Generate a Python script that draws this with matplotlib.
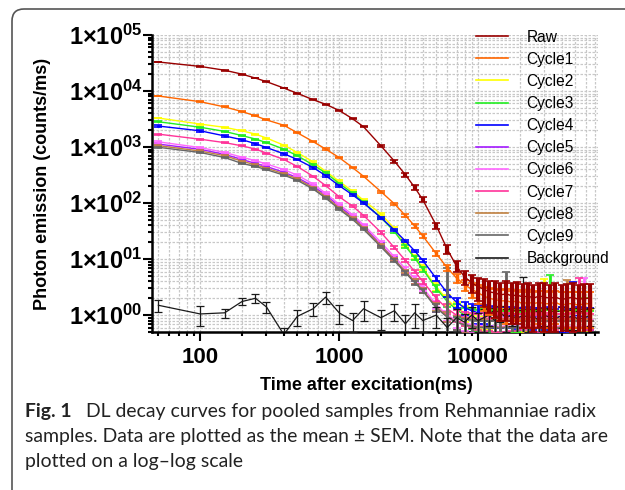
# coding: utf-8
import numpy as np
import matplotlib
matplotlib.use("Agg")
from matplotlib import pyplot
from matplotlib.lines import Line2D
from matplotlib.patches import FancyBboxPatch
from matplotlib.ticker import FixedLocator, LogLocator, NullFormatter
from matplotlib.transforms import IdentityTransform

pyplot.rcParams["font.family"] = "Liberation Sans"
pyplot.rcParams["mathtext.fontset"] = "custom"
pyplot.rcParams["mathtext.rm"] = "Liberation Sans:bold"
pyplot.rcParams["mathtext.it"] = "Liberation Sans:bold"
pyplot.rcParams["mathtext.bf"] = "Liberation Sans:bold"

# time after excitation (ms)
times = [50, 100, 150, 200, 250, 300, 400, 500, 650, 800,
         1000, 1250, 1500, 2000, 2500, 3000, 3500, 4000, 5000, 6000,
         7000, 8000, 9000, 10000, 11000, 12000, 13200, 14500, 16000, 17500,
         19000, 21000, 23000, 25000, 27500, 30000, 33000, 36000, 40000, 44000,
         48000, 53000, 58000, 64000]

# mean photon emission (counts/ms) and SEM
raw = [33000, 27500, 23500, 20000, 17000, 14700, 11300, 9100, 7000, 5800,
       4500, 3200, 2300, 1050, 560, 320, 190, 115, 40, 15,
       7.5, 4.8, 3.8, 3.2, 2.9, 2.6, 2.5, 2.3, 2.4, 2.2,
       2.3, 2.1, 2.2, 2.0, 2.2, 2.1, 2.0, 2.1, 1.9, 2.0,
       2.1, 1.9, 2.0, 2.0]
raw_sem = [500, 420, 360, 300, 260, 230, 180, 150, 120, 100,
           80, 65, 50, 40, 30, 22, 16, 11, 5, 2.5,
           1.6, 1.3, 1.3, 1.4, 1.5, 1.5, 1.6, 1.5, 1.6, 1.5,
           1.6, 1.5, 1.6, 1.5, 1.6, 1.6, 1.5, 1.6, 1.5, 1.6,
           1.6, 1.5, 1.6, 1.6]

cycle1 = [8150, 6450, 5200, 4300, 3600, 3050, 2450, 1800, 1250, 920,
          650, 430, 300, 160, 97, 60, 39, 26, 12.5, 7.0,
          4.6, 3.5, 2.9, 2.5, 2.2, 2.0, 1.9, 1.8, 1.8, 1.7,
          1.8, 1.6, 1.7, 1.6, 1.7, 1.6, 1.6, 1.7, 1.5, 1.6,
          1.6, 1.5, 1.6, 1.6]
cycle1_sem = [150, 120, 100, 85, 70, 60, 50, 40, 30, 24,
              18, 13, 10, 7, 5, 3.5, 2.5, 2.0, 1.2, 0.9,
              0.8, 0.8, 0.9, 0.9, 1.0, 1.0, 1.0, 1.0, 1.1, 1.0,
              1.0, 1.0, 1.1, 1.0, 1.0, 1.1, 1.0, 1.0, 1.1, 1.0,
              1.0, 1.1, 1.0, 1.0]

cycle2 = [3300, 2570, 2250, 1950, 1700, 1450, 1080, 800, 540, 370,
          245, 163, 112, 64, 35, 18, 11, 7.0, 3.2, 1.9,
          1.35, 1.1, 1.0, 0.95, 0.95, 0.9, 0.9, 0.85, 0.9, 0.85,
          0.9, 0.85, 0.8, 0.9, 0.85, 0.8, 0.85, 0.9, 0.8, 0.85,
          0.85, 0.8, 0.9, 0.85]
cycle2_sem = [60, 50, 45, 40, 35, 30, 25, 20, 15, 11,
              8, 6, 4.5, 3, 2, 1.3, 1.0, 0.7, 0.5, 0.4,
              0.35, 0.35, 0.35, 0.35, 0.4, 0.35, 0.4, 0.35, 0.4, 0.35,
              0.4, 0.35, 0.4, 0.35, 0.4, 3.6, 0.4, 0.35, 0.4, 0.35,
              0.4, 0.35, 0.4, 0.4]

cycle3 = [2830, 2260, 1900, 1600, 1390, 1200, 920, 700, 480, 345,
          225, 150, 103, 55, 31, 17, 10.5, 6.6, 3.0, 1.75,
          1.25, 1.0, 0.92, 0.88, 0.9, 0.85, 0.9, 0.85, 0.8, 0.85,
          0.9, 0.8, 0.85, 0.8, 0.85, 0.9, 0.8, 0.85, 0.8, 0.9,
          0.85, 0.8, 0.85, 0.8]
cycle3_sem = [55, 45, 40, 35, 30, 26, 21, 17, 13, 10,
              7, 5, 3.8, 2.5, 1.7, 1.1, 0.8, 0.6, 0.45, 0.35,
              0.35, 0.35, 0.35, 0.35, 0.4, 0.35, 0.4, 0.35, 0.4, 0.35,
              0.4, 0.35, 0.4, 0.35, 0.4, 0.35, 4.3, 0.35, 0.4, 0.35,
              0.4, 0.35, 1.2, 0.4]

cycle4 = [2370, 1950, 1580, 1350, 1150, 980, 760, 600, 430, 310,
          205, 140, 100, 55, 33, 21, 14, 9.5, 4.5, 2.5,
          1.7, 1.35, 1.2, 1.1, 1.1, 1.05, 1.0, 1.0, 0.95, 1.0,
          0.95, 0.9, 1.0, 0.95, 0.9, 0.95, 1.0, 0.9, 0.95, 0.9,
          0.95, 1.0, 0.9, 0.95]
cycle4_sem = [60, 55, 50, 45, 40, 35, 28, 22, 16, 12,
              8, 6, 4, 2.5, 1.6, 1.1, 0.8, 0.6, 0.4, 0.35,
              0.35, 0.35, 0.35, 0.4, 0.4, 0.4, 0.4, 0.4, 0.45, 0.4,
              0.4, 0.45, 0.4, 0.4, 0.45, 0.4, 0.4, 0.4, 0.45, 0.4,
              2.9, 0.4, 0.45, 0.4]

cycle5 = [1130, 910, 740, 600, 510, 450, 355, 285, 200, 140,
          88, 57, 38, 18, 10, 6.0, 4.0, 2.8, 1.4, 0.95,
          0.75, 0.68, 0.65, 0.62, 0.62, 0.6, 0.62, 0.6, 0.62, 0.6,
          0.6, 0.62, 0.6, 0.62, 0.6, 0.6, 0.62, 0.6, 0.62, 0.6,
          0.6, 0.62, 0.6, 0.6]
cycle5_sem = [30, 25, 20, 17, 15, 13, 11, 9, 7, 5,
              3.5, 2.5, 1.8, 1.0, 0.7, 0.5, 0.4, 0.3, 0.25, 0.2,
              0.2, 0.2, 0.2, 0.2, 0.25, 0.2, 0.25, 0.2, 0.25, 0.2,
              0.25, 0.2, 0.25, 0.2, 0.25, 0.2, 0.25, 0.2, 0.25, 0.2,
              0.25, 0.2, 0.25, 0.2]

cycle6 = [1240, 980, 800, 660, 570, 500, 395, 315, 220, 150,
          95, 62, 41, 20, 11, 6.8, 4.5, 3.1, 1.55, 1.0,
          0.8, 0.72, 0.68, 0.65, 0.65, 0.62, 0.65, 0.62, 0.65, 0.62,
          0.65, 0.62, 0.65, 0.62, 0.65, 0.62, 0.65, 0.62, 0.65, 0.62,
          0.65, 0.62, 0.65, 0.62]
cycle6_sem = [35, 28, 22, 18, 16, 14, 12, 10, 8, 6,
              4, 3, 2, 1.1, 0.8, 0.55, 0.4, 0.35, 0.25, 0.2,
              0.2, 0.2, 0.2, 0.2, 0.25, 0.2, 0.25, 0.2, 0.25, 0.2,
              0.25, 0.2, 0.25, 0.2, 0.25, 0.2, 0.25, 0.2, 0.25, 0.2,
              0.25, 0.2, 4.0, 0.2]

cycle7 = [1700, 1380, 1200, 1050, 920, 780, 600, 450, 300, 205,
          130, 88, 60, 30, 16, 9.5, 6.0, 4.0, 2.0, 1.3,
          1.0, 0.9, 0.85, 0.8, 0.8, 0.78, 0.8, 0.75, 0.8, 0.78,
          0.75, 0.8, 0.78, 0.75, 0.8, 0.75, 0.78, 0.8, 0.75, 0.78,
          0.8, 0.75, 0.78, 0.8]
cycle7_sem = [40, 32, 28, 24, 21, 18, 15, 12, 9, 7,
              5, 3.5, 2.5, 1.4, 0.9, 0.6, 0.45, 0.35, 0.3, 0.25,
              0.25, 0.25, 0.25, 0.25, 0.3, 0.25, 0.3, 0.25, 0.3, 0.25,
              0.3, 0.25, 0.3, 0.25, 0.3, 0.25, 0.3, 0.25, 0.3, 0.25,
              0.3, 3.8, 0.3, 0.25]

cycle8 = [1060, 850, 700, 560, 480, 420, 335, 270, 188, 130,
          82, 54, 36, 17.5, 9.8, 6.0, 4.0, 2.8, 1.4, 0.95,
          0.75, 0.68, 0.64, 0.62, 0.62, 0.6, 0.62, 0.6, 0.62, 0.6,
          0.62, 0.6, 0.62, 0.6, 0.62, 0.6, 0.62, 0.6, 0.62, 0.6,
          0.62, 0.6, 0.62, 0.6]
cycle8_sem = [28, 22, 18, 15, 13, 11, 9, 8, 6, 4.5,
              3, 2.2, 1.6, 0.9, 0.6, 0.45, 0.35, 0.3, 0.22, 0.2,
              0.2, 0.2, 0.2, 0.2, 0.22, 0.2, 0.22, 0.2, 0.22, 0.2,
              0.22, 0.2, 0.22, 0.2, 0.22, 0.2, 0.22, 0.2, 0.22, 3.7,
              0.22, 0.2, 0.22, 0.2]

cycle9 = [990, 800, 650, 510, 450, 395, 315, 255, 178, 123,
          78, 51, 34, 16.5, 9.3, 5.7, 3.8, 2.7, 1.35, 0.92,
          0.74, 0.67, 0.63, 0.6, 0.6, 0.58, 0.6, 0.58, 0.6, 0.58,
          0.6, 0.58, 0.6, 0.58, 0.6, 0.58, 0.6, 0.58, 0.6, 0.58,
          0.6, 0.58, 0.6, 0.58]
cycle9_sem = [26, 20, 17, 14, 12, 10, 8, 7, 5, 4,
              2.8, 2, 1.5, 0.8, 0.55, 0.4, 0.3, 0.25, 0.2, 6.0,
              0.2, 0.2, 0.2, 0.2, 0.2, 0.2, 0.2, 0.2, 5.2, 0.2,
              0.2, 0.2, 0.2, 0.2, 0.2, 0.2, 0.2, 0.2, 0.2, 0.2,
              0.2, 0.2, 0.2, 0.2]

background = [1.5, 1.05, 1.1, 1.75, 2.0, 1.4, 0.45, 0.95, 1.3, 2.1,
              1.1, 0.8, 1.3, 0.9, 1.2, 0.7, 1.1, 0.8, 1.0, 0.6,
              0.9, 0.75, 1.0, 0.8, 0.9, 1.0, 0.8, 1.1, 0.9, 1.0,
              0.85, 1.0, 0.9, 0.95, 0.8, 1.0, 0.9, 0.85, 1.0, 0.9,
              0.95, 0.85, 0.9, 1.0]
background_sem = [0.35, 0.4, 0.2, 0.25, 0.35, 0.3, 0.15, 0.3, 0.35, 0.5,
                  0.4, 0.3, 0.5, 0.35, 0.4, 0.3, 0.5, 0.3, 0.4, 0.3,
                  0.4, 0.3, 0.4, 0.3, 0.4, 0.35, 0.4, 0.35, 0.4, 0.35,
                  0.4, 3.8, 0.4, 0.35, 0.4, 0.35, 0.4, 0.35, 0.4, 0.35,
                  0.4, 0.35, 0.4, 0.35]

series_names = ["Raw", "Cycle1", "Cycle2", "Cycle3", "Cycle4", "Cycle5",
                "Cycle6", "Cycle7", "Cycle8", "Cycle9", "Background"]
series_values = [raw, cycle1, cycle2, cycle3, cycle4, cycle5,
                 cycle6, cycle7, cycle8, cycle9, background]
series_sem = [raw_sem, cycle1_sem, cycle2_sem, cycle3_sem, cycle4_sem, cycle5_sem,
              cycle6_sem, cycle7_sem, cycle8_sem, cycle9_sem, background_sem]
series_colors = ["#990000", "#ff6600", "#ffff00", "#22ee22", "#0000ff", "#a31aff",
                 "#ff66ff", "#ff3399", "#c08040", "#666666", "#1a1a1a"]
error_widths = [3.0, 2.5, 2.0, 2.0, 2.0, 2.0, 2.0, 2.0, 2.0, 2.0, 0.9]
# drawing order: cycles first, then background, orange, raw on top
draw_order = [2, 3, 4, 5, 6, 7, 8, 9, 10, 1, 0]

x_ticks = [100, 1000, 10000]
x_tick_labels = ["100", "1000", "10000"]
y_ticks = [1, 10, 100, 1000, 10000, 100000]
y_tick_labels = ["1×10$^{00}$", "1×10$^{01}$", "1×10$^{02}$",
                 "1×10$^{03}$", "1×10$^{04}$", "1×10$^{05}$"]

caption_bold = "Fig. 1"
caption_lines = ["DL decay curves for pooled samples from Rehmanniae radix",
                 "samples. Data are plotted as the mean ± SEM. Note that the data are",
                 "plotted on a log–log scale"]

fig = pyplot.figure(figsize=(6.25, 4.9), dpi=100)
ax = fig.add_axes([152 / 625, 1 - 332 / 490, 446 / 625, 297 / 490])
ax.set_xscale("log")
ax.set_yscale("log")

for z, i in enumerate(draw_order):
    thin = series_names[i] == "Background"
    ax.errorbar(times, series_values[i], yerr=series_sem[i], color=series_colors[i],
                lw=0.9 if thin else 1.0, elinewidth=error_widths[i], capsize=3,
                capthick=0.9 if thin else 1.2, zorder=3 + z)

ax.set_xlim(45, 73000)
ax.set_ylim(0.5, 100000)

ax.xaxis.set_major_locator(FixedLocator(x_ticks))
ax.set_xticklabels(x_tick_labels)
ax.xaxis.set_minor_locator(LogLocator(base=10, subs=np.arange(2, 10), numticks=20))
ax.xaxis.set_minor_formatter(NullFormatter())
ax.yaxis.set_major_locator(FixedLocator(y_ticks))
ax.set_yticklabels(y_tick_labels)
ax.yaxis.set_minor_locator(LogLocator(base=10, subs=np.arange(2, 10), numticks=20))
ax.yaxis.set_minor_formatter(NullFormatter())

for label in ax.get_xticklabels():
    label.set_fontweight("bold")
    label.set_fontsize(16)
for label in ax.get_yticklabels():
    label.set_fontweight("bold")
    label.set_fontsize(17)

ax.tick_params(which="major", direction="out", length=6.5, width=1.5)
ax.tick_params(which="minor", direction="out", length=3.2, width=1.5)
ax.tick_params(axis="y", pad=0.5)
ax.tick_params(axis="x", pad=4)

ax.grid(True, which="both", color="#c8c8c8", linestyle=(0, (2, 1.2)), linewidth=0.9)
ax.set_axisbelow(True)
ax.spines["top"].set_visible(False)
ax.spines["right"].set_visible(False)
ax.spines["left"].set_linewidth(1.8)
ax.spines["bottom"].set_linewidth(1.8)

ax.set_ylabel("Photon emission (counts/ms)", fontsize=13, fontweight="bold")
ax.yaxis.set_label_coords(-0.226, 0.5)
ax.set_xlabel("Time after excitation(ms)", fontsize=13, fontweight="bold")
ax.xaxis.set_label_coords(0.48, -0.152)

handles = [Line2D([], [], color=c, lw=1.2) for c in series_colors]
ax.legend(handles, series_names, loc="upper left", bbox_to_anchor=(476 / 625, 1 - 29.5 / 490),
          bbox_transform=fig.transFigure, frameon=False, fontsize=11.2, borderpad=0,
          borderaxespad=0, handlelength=2.05, handletextpad=1.2, labelspacing=0.46)

# rounded frame around the figure panel
frame = FancyBboxPatch((12, -60), 700, 481 + 60, boxstyle="round,pad=0,rounding_size=12",
                       transform=IdentityTransform(), fc="none", ec="#555555", lw=1.2)
fig.add_artist(frame)

# caption, font size fitted to the width of the second line
cap_size = 14
bold = fig.text(25 / 625, 1 - 417 / 490, caption_bold, fontsize=cap_size, family="Lato",
                fontweight="bold", va="baseline", color="#222222")
lines = [fig.text(86 / 625, 1 - 417 / 490, caption_lines[0], fontsize=cap_size, family="Lato",
                  va="baseline", color="#222222"),
         fig.text(25 / 625, 1 - 442 / 490, caption_lines[1], fontsize=cap_size, family="Lato",
                  va="baseline", color="#222222"),
         fig.text(25 / 625, 1 - 467 / 490, caption_lines[2], fontsize=cap_size, family="Lato",
                  va="baseline", color="#222222")]
fig.canvas.draw()
scale = 586 / lines[1].get_window_extent().width
for t in lines + [bold]:
    t.set_fontsize(cap_size * scale)

fig.savefig("out.png", dpi=100)
